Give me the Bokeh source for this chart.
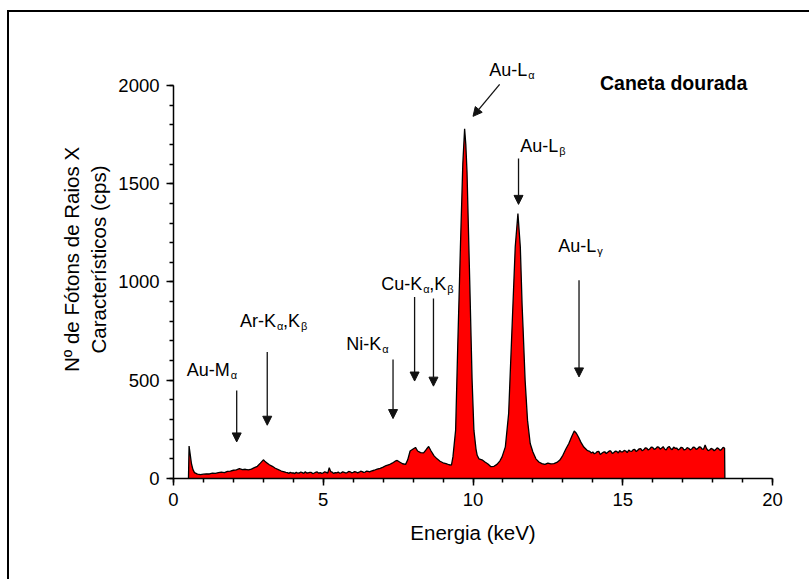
from bokeh.plotting import figure
from bokeh.models import (Range1d, SingleIntervalTicker, Label, Arrow, NormalHead,
                          ColumnDataSource)
from bokeh.embed import file_html
from bokeh.resources import INLINE

# ---- data: EDXRF spectrum "Caneta dourada" (energy keV, counts cps) ----
energy = [0.50, 0.52, 0.56, 0.60, 0.65, 0.70, 0.80, 0.90, 1.00, 1.10, 1.20, 1.30, 1.40,
          1.50, 1.60, 1.70, 1.80, 1.90, 2.00, 2.10, 2.20, 2.30, 2.40, 2.50, 2.60, 2.70,
          2.80, 2.90, 3.00, 3.05, 3.10, 3.20, 3.30, 3.40, 3.50, 3.60,
          3.70, 3.75, 3.80, 3.85, 3.90, 3.95, 4.00, 4.05, 4.10, 4.15, 4.20, 4.25, 4.30,
          4.35, 4.40, 4.45, 4.50, 4.55, 4.60, 4.65, 4.70, 4.75, 4.80, 4.85, 4.90, 4.95,
          5.00, 5.05, 5.10, 5.15, 5.20, 5.25, 5.30, 5.35, 5.40, 5.45, 5.50, 5.55, 5.60,
          5.65, 5.70, 5.75, 5.80, 5.85, 5.90, 5.95, 6.00, 6.05, 6.10, 6.15, 6.20, 6.25,
          6.30, 6.35, 6.40, 6.45, 6.50, 6.55, 6.60,
          6.70, 6.80, 6.90, 7.00, 7.10, 7.20, 7.30, 7.40, 7.47, 7.55, 7.65, 7.75,
          7.82, 7.90, 8.00, 8.08, 8.15, 8.25, 8.35, 8.45, 8.52, 8.60, 8.70, 8.80, 8.90,
          9.00, 9.10, 9.20, 9.28, 9.33, 9.42, 9.49, 9.58, 9.66, 9.72, 9.76, 9.80, 9.89,
          9.97, 10.03, 10.10, 10.14, 10.20, 10.30, 10.40, 10.50, 10.60, 10.70, 10.80,
          10.90, 10.97, 11.08, 11.19, 11.30, 11.41, 11.50, 11.58, 11.64, 11.67, 11.74,
          11.82, 11.91, 12.00, 12.10, 12.20, 12.30, 12.40, 12.50, 12.60, 12.70, 12.80,
          12.90, 13.00, 13.10, 13.20, 13.30, 13.38, 13.45, 13.52, 13.60, 13.70,
          13.80, 13.85, 13.90, 13.95, 14.00, 14.05, 14.10, 14.15, 14.20, 14.25, 14.30,
          14.35, 14.40, 14.45, 14.50, 14.55, 14.60, 14.65, 14.70, 14.75, 14.80, 14.85,
          14.90, 14.95, 15.00, 15.05, 15.10, 15.15, 15.20, 15.25, 15.30, 15.35, 15.40,
          15.45, 15.50, 15.55, 15.60, 15.65, 15.70, 15.75, 15.80, 15.85, 15.90, 15.95,
          16.00, 16.05, 16.10, 16.15, 16.20, 16.25, 16.30, 16.35, 16.40, 16.45, 16.50,
          16.55, 16.60, 16.65, 16.70, 16.75, 16.80, 16.85, 16.90, 16.95, 17.00, 17.05,
          17.10, 17.15, 17.20, 17.25, 17.30, 17.35, 17.40, 17.45, 17.50, 17.55, 17.60,
          17.65, 17.70, 17.75, 17.80, 17.85, 17.90, 17.95, 18.00, 18.05, 18.10, 18.15,
          18.20, 18.25, 18.30, 18.35, 18.40, 18.41]
counts = [0, 165, 120, 75, 45, 30, 22, 20, 22, 24, 23, 27, 26,
          30, 32, 30, 36, 38, 42, 44, 50, 45, 47, 44, 48, 55,
          62, 78, 95, 88, 82, 70, 62, 52, 45, 38,
          34, 31, 30, 26, 31, 28, 29, 25, 32, 27, 28, 33, 30,
          26, 34, 28, 29, 31, 31, 25, 28, 32, 33, 27, 30, 26,
          29, 34, 31, 27, 55, 35, 32, 26, 30, 29, 33, 27, 29,
          34, 31, 28, 30, 36, 34, 29, 31, 35, 33, 29, 32, 37,
          35, 31, 33, 38, 36, 34, 38,
          42, 48, 52, 58, 66, 70, 78, 88, 92, 84, 75, 72,
          95, 140, 150, 158, 140, 132, 130, 150, 163, 140, 115, 100, 88,
          80, 76, 70, 68, 110, 246, 670, 1178, 1602, 1780, 1700, 1560, 1009,
          500, 246, 150, 118, 100, 95, 84, 74, 60, 62, 72,
          90, 110, 161, 330, 754, 1178, 1348, 1178, 880, 771, 500,
          297, 178, 135, 100, 84, 76, 72, 78, 74, 76, 82,
          94, 118, 150, 178, 215, 242, 230, 211, 185, 160,
          145, 140, 138, 130, 135, 126, 130, 137, 138, 122, 128,
          134, 136, 127, 134, 140, 140, 128, 132, 139, 138, 130,
          142, 135, 136, 143, 140, 132, 145, 139, 138, 147, 148,
          137, 144, 151, 152, 141, 146, 156, 155, 145, 150, 160,
          158, 148, 152, 161, 160, 149, 155, 162, 150, 145, 158,
          163, 152, 147, 160, 154, 155, 146, 150, 159, 156, 145,
          148, 157, 154, 146, 150, 160, 158, 148, 152, 161, 160,
          149, 150, 170, 152, 142, 145, 153, 150, 141, 147, 156,
          152, 143, 148, 158, 155, 0]

FONT = "Liberation Sans"

# page offset of the plot canvas (a framed figure: border at left/top)
p = figure(width=802, height=569, x_range=Range1d(0, 20), y_range=Range1d(0, 2229),
           output_backend="svg", toolbar_location=None,
           min_border_left=164, min_border_right=39, min_border_top=28, min_border_bottom=103)
p.styles = {"margin-left": "7px", "margin-top": "10px",
            "border-left": "2px solid black", "border-top": "2px solid black"}
p.xgrid.visible = False
p.ygrid.visible = False
p.outline_line_color = None
p.background_fill_color = "white"
p.border_fill_color = "white"

p.xaxis.ticker = SingleIntervalTicker(interval=5, num_minor_ticks=5)
p.yaxis.ticker = SingleIntervalTicker(interval=500, num_minor_ticks=5)
p.xaxis.bounds = (0, 20)
p.yaxis.bounds = (0, 2000)
for ax in (p.xaxis[0], p.yaxis[0]):
    ax.major_tick_in = 0
    ax.major_tick_out = 7
    ax.minor_tick_in = 0
    ax.minor_tick_out = 4
    ax.axis_line_width = 1.5
    ax.major_tick_line_width = 1.5
    ax.minor_tick_line_width = 1.5
    ax.axis_line_color = "black"
    ax.major_tick_line_color = "black"
    ax.minor_tick_line_color = "black"
    ax.major_label_text_font = FONT
    ax.major_label_text_font_size = "18.5px"
    ax.major_label_text_color = "black"
    ax.axis_label_text_font = FONT
    ax.axis_label_text_font_size = "20.5px"
    ax.axis_label_text_font_style = "normal"
    ax.axis_label_text_color = "black"
    ax.major_label_standoff = 7
p.xaxis.axis_label = "Energia (keV)"
p.yaxis.axis_label = "Nº de Fótons de Raios X\nCaracterísticos (cps)"
p.xaxis.axis_label_standoff = 12
p.yaxis.axis_label_standoff = 5

src = ColumnDataSource(dict(e=energy, c=counts))
p.varea(x="e", y1=0, y2="c", source=src, fill_color="#FF0000")
p.line(x="e", y="c", source=src, line_color="black", line_width=1.3)

# ---- annotations ----
def lab(x, y, text, size="18px", dx=0, dy=0, bold=False):
    p.add_layout(Label(x=x, y=y, text=text, x_offset=dx, y_offset=dy,
                       text_font=FONT, text_font_size=size, text_color="black",
                       text_font_style="bold" if bold else "normal",
                       text_align="left", text_baseline="alphabetic"))

SUB = "11px"
lab(0.44, 554, "Au-M"); lab(0.44, 554, "α", SUB, dx=44, dy=-5)
lab(2.22, 802, "Ar-K"); lab(2.22, 802, "α", SUB, dx=37, dy=-5)
lab(2.22, 802, ",K", dx=43); lab(2.22, 802, "β", SUB, dx=61, dy=-5)
lab(5.77, 687, "Ni-K"); lab(5.77, 687, "α", SUB, dx=36, dy=-5)
lab(6.94, 990, "Cu-K"); lab(6.94, 990, "α", SUB, dx=42, dy=-5)
lab(6.94, 990, ",K", dx=48); lab(6.94, 990, "β", SUB, dx=66, dy=-5)
lab(10.54, 2080, "Au-L"); lab(10.54, 2080, "α", SUB, dx=39, dy=-5)
lab(11.58, 1690, "Au-L"); lab(11.58, 1690, "β", SUB, dx=39, dy=-5)
lab(12.85, 1182, "Au-L"); lab(12.85, 1182, "γ", SUB, dx=39, dy=-5)
lab(14.24, 2011, "Caneta dourada", size="19.5px", bold=True)

arrows = [(2.11, 448, 2.11, 186), (3.13, 644, 3.13, 271), (7.33, 605, 7.33, 305),
          (8.05, 924, 8.05, 496), (8.68, 916, 8.68, 470), (11.52, 1628, 11.52, 1395),
          (13.54, 1009, 13.54, 517), (10.89, 2006, 10.0, 1843)]
for xs, ys, xe, ye in arrows:
    p.add_layout(Arrow(x_start=xs, y_start=ys, x_end=xe, y_end=ye,
                       line_color="#111111", line_width=1.3,
                       end=NormalHead(size=9, fill_color="#111111", line_color="#111111",
                                      line_width=1)))

open("out.html", "w").write(file_html(p, INLINE))
